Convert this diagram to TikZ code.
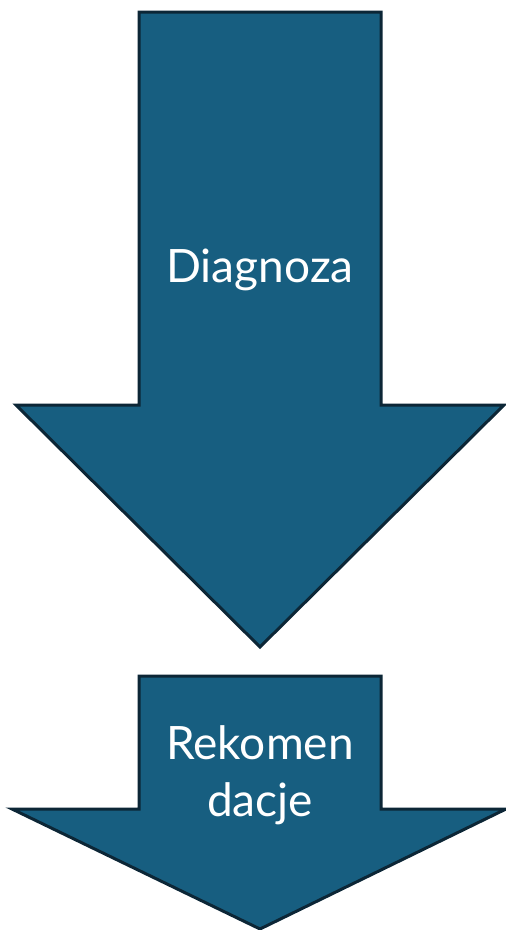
\documentclass[tikz,border=0pt]{standalone}
\usepackage{fontspec}
\setmainfont{Lato}
\definecolor{arrowfill}{HTML}{175E80}
\definecolor{arrowline}{HTML}{0C2636}
\begin{document}
\begin{tikzpicture}[x=1pt,y=-1pt,
  bigarrow/.style={fill=arrowfill,draw=arrowline,line width=3pt,line join=miter},
  arrowtext/.style={text=white,font=\fontsize{46}{57}\selectfont,align=center}]
\useasboundingbox (0,0) rectangle (506,930);
\draw[bigarrow] (139,12) -- (381,12) -- (381,405) -- (504,405) -- (260,647) -- (16,405) -- (139,405) -- cycle;
\draw[bigarrow] (139,676) -- (381,676) -- (381,809) -- (506,809) -- (260,929) -- (12,809) -- (139,809) -- cycle;
\node[arrowtext] (d) at (260,270) {Diagnoza};
\node[arrowtext] (r) at (260,775) {Rekomen\\dacje};
\end{tikzpicture}
\end{document}
